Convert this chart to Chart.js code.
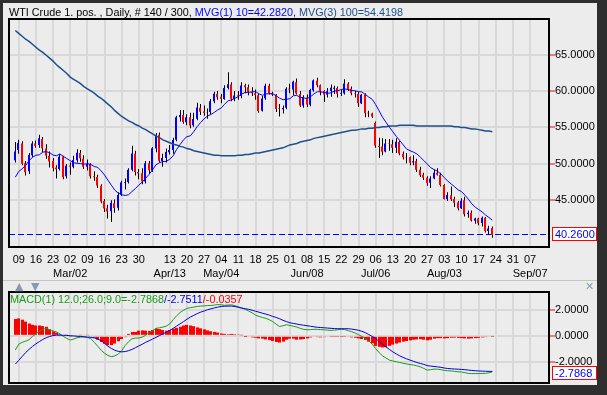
<!DOCTYPE html>
<html>
<head>
<meta charset="utf-8">
<script src="https://cdn.jsdelivr.net/npm/chart.js@4.4.0/dist/chart.umd.min.js"></script>
<style>
  html, body { margin: 0; padding: 0; }
  body { width: 607px; height: 395px; background: #2e2e2e; position: relative; overflow: hidden;
         font-family: "Liberation Sans", Arial, sans-serif; font-size: 11px; }
  #panel { position: absolute; left: 3px; top: 3px; width: 594px; height: 382px; background: #ececec; }
  #sep { position: absolute; left: 3px; top: 280px; width: 594px; height: 1px; background: #c4c4c4; }
  canvas { position: absolute; left: 0; }
  #c1 { top: 0; }
  #c2 { top: 283px; }
  .txt { position: absolute; white-space: nowrap; line-height: 13px; font-size: 10.8px; }
  .btn { position: absolute; color: #8a98b2; font-family: "DejaVu Sans", sans-serif; font-size: 11px; line-height: 11px; }
</style>
</head>
<body>
<div id="panel"></div>
<div id="sep"></div>
<canvas id="c1" width="607" height="283"></canvas>
<canvas id="c2" width="607" height="110"></canvas>
<div class="txt" style="left:9px;top:6px;">WTI Crude 1. pos. , Daily, # 140 / 300, <span style="color:#0000ff">MVG(1) 10=42.2820, </span><span style="color:#1c4f8c">MVG(3) 100=54.4198</span></div>
<div class="txt" style="left:10px;top:293px;"><span style="color:#1a9a1a">MACD(1) 12.0;26.0;9.0=-2.7868</span><span style="color:#0000dd">/-2.7511</span><span style="color:#ff0000">/-0.0357</span></div>
<div class="btn" style="left:15px;top:281px;">▲</div>
<div class="btn" style="left:31px;top:281px;">▼</div>
<div class="btn" style="left:585px;top:281px;font-weight:bold;">✕</div>
<script>
// tick layout (bar index of each weekly grid line)
const tickIdx = [1, 6, 11, 16, 21, 26, 31, 36, 40, 45, 50, 55, 60, 65, 70, 75, 80, 85, 90, 95, 100, 105, 110, 115, 120, 125, 130, 135, 140, 145, 150];
const tickDays = ['09','16','23','02','09','16','23','30','','13','20','27','04','11','18','25','01','08','15','22','29','06','13','20','27','03','10','17','24','31','07'];
const tickMonths = ['','','','Mar/02','','','','','','Apr/13','','','May/04','','','','','Jun/08','','','','Jul/06','','','','Aug/03','','','','','Sep/07'];

const opens = [50.50,51.90,52.80,50.10,49.00,51.20,52.80,52.60,53.40,52.10,51.10,50.40,49.50,49.30,51.00,48.30,49.80,49.60,50.50,51.50,
  50.70,49.60,50.00,48.30,48.20,47.00,44.90,43.90,43.50,44.60,44.00,45.80,47.40,47.50,49.20,51.40,48.90,48.70,47.60,50.10,
  49.10,52.10,54.00,50.40,50.80,51.60,51.90,53.30,56.40,56.70,55.70,56.40,55.30,56.20,57.70,57.20,57.00,57.10,58.60,59.60,
  59.20,58.90,60.40,60.90,58.90,59.40,59.30,60.80,60.50,59.90,59.70,59.40,57.30,59.00,60.70,59.70,59.50,57.60,57.50,57.70,
  60.30,60.20,61.20,59.60,58.00,59.10,58.10,60.10,61.40,60.80,60.00,59.50,60.00,60.30,60.40,59.60,59.70,61.00,60.30,59.70,
  59.60,58.30,59.50,57.00,56.90,55.60,52.50,52.40,51.70,52.80,52.70,52.20,53.00,51.40,50.90,50.90,50.20,50.40,49.20,48.50,
  48.10,47.40,48.00,48.80,48.50,47.10,45.20,45.70,45.20,44.70,43.90,45.00,43.10,43.30,42.20,42.50,41.90,42.60,40.80,41.20];
const highs = [53.00,53.30,53.10,50.40,51.50,53.10,53.20,54.00,53.70,52.70,51.70,50.80,49.80,51.40,51.10,50.00,50.20,51.10,52.00,51.90,
  51.20,50.60,50.10,49.00,48.50,47.20,45.20,44.40,45.00,45.10,46.10,47.70,48.00,49.40,52.48,51.80,49.30,49.40,50.40,50.40,
  52.30,54.24,54.30,51.40,52.10,52.60,53.60,56.60,57.40,57.40,56.80,57.00,57.00,58.40,58.20,58.00,57.60,58.90,59.90,60.00,
  59.60,60.80,62.58,61.20,60.00,60.00,61.20,61.00,60.90,60.50,60.20,59.60,59.30,61.00,61.00,59.90,59.60,58.20,58.00,60.50,
  61.00,61.40,61.70,60.00,59.40,59.50,60.30,61.57,61.80,60.90,60.10,60.40,60.90,60.70,60.60,60.20,61.60,61.20,60.60,60.00,
  59.90,59.60,59.70,57.30,57.00,55.80,53.60,53.50,53.40,53.40,53.30,53.50,53.20,51.70,51.50,51.00,51.20,50.70,49.60,48.80,
  48.30,48.30,49.20,49.40,48.80,47.20,46.10,46.90,45.50,44.90,45.30,45.50,43.60,43.60,42.60,42.60,42.80,42.70,41.50,41.40];
const lows = [50.20,51.40,49.80,48.40,48.60,50.90,52.20,52.20,51.60,50.70,49.50,49.00,48.00,49.10,47.90,48.00,48.50,49.40,50.20,50.30,
  49.30,49.10,48.00,47.70,46.70,44.60,43.40,42.50,42.03,43.30,43.60,45.60,46.50,47.30,49.00,48.40,47.90,47.20,47.30,48.60,
  48.90,51.60,50.20,49.60,50.20,51.30,51.40,53.10,55.80,55.50,55.30,54.90,55.10,56.00,56.70,56.60,56.20,56.80,58.30,58.80,
  58.30,58.80,60.20,58.60,58.60,58.80,59.00,59.70,59.40,59.30,58.80,57.00,57.20,58.80,59.50,59.30,57.10,56.50,56.90,57.50,
  59.70,59.40,59.50,57.80,57.70,57.80,57.90,59.90,60.50,59.40,58.50,59.10,59.20,59.60,59.10,59.30,59.50,60.00,59.40,59.10,
  57.80,58.20,56.40,56.40,56.30,52.20,50.80,51.20,51.60,51.80,51.50,51.50,51.20,50.60,50.10,49.80,49.80,48.90,48.20,47.80,
  47.00,46.70,47.90,48.40,46.90,45.10,44.90,44.90,44.10,43.60,43.80,42.80,42.60,42.10,41.80,41.60,41.40,40.60,40.30,39.86];
const closes = [51.69,52.86,50.02,48.84,51.21,52.78,52.50,53.53,52.14,51.16,50.34,49.45,49.25,50.99,48.17,49.76,49.59,50.52,51.53,50.76,
  49.61,50.00,48.29,48.17,47.05,44.84,43.88,43.46,44.66,43.96,45.72,47.45,47.51,49.21,51.43,48.87,48.68,47.60,50.09,49.14,
  52.14,53.98,50.42,50.79,51.64,51.91,53.29,56.39,56.71,55.74,56.38,55.26,56.16,57.74,57.15,56.99,57.06,58.58,59.63,59.15,
  58.93,60.40,60.93,58.94,59.39,59.25,60.75,60.50,59.88,59.69,59.43,57.26,58.98,60.72,59.72,59.50,57.51,57.51,57.68,60.30,
  60.20,61.26,59.64,58.00,59.13,58.14,60.14,61.43,60.77,59.96,59.52,59.97,60.45,60.45,59.61,59.68,61.01,60.27,59.70,59.63,
  58.33,59.47,56.96,56.93,56.50,52.53,52.33,51.65,52.78,52.74,52.20,53.04,51.41,50.91,50.89,50.15,50.36,49.19,48.45,48.14,
  47.39,47.98,48.79,48.52,47.12,45.17,45.74,45.15,44.66,43.87,44.96,43.08,43.30,42.23,42.50,41.87,42.62,40.80,41.14,40.26];

const mvg10 = [48.18,48.96,49.33,49.77,50.44,50.90,51.19,51.24,51.61,51.67,51.54,51.20,51.12,51.34,51.03,50.73,50.44,50.14,50.08,50.04,
  49.96,50.02,49.92,49.64,49.53,49.04,48.47,47.76,47.07,46.39,46.00,45.75,45.67,45.77,46.21,46.62,47.10,47.51,48.05,48.57,
  49.21,49.87,50.16,50.31,50.34,50.64,51.10,51.98,52.64,53.30,53.73,53.85,54.43,55.12,55.67,56.18,56.56,56.78,57.07,57.41,
  57.67,58.18,58.66,58.78,59.00,59.23,59.60,59.79,59.81,59.87,59.92,59.60,59.41,59.59,59.62,59.64,59.32,59.02,58.80,58.86,
  58.94,59.34,59.40,59.13,59.07,58.94,59.20,59.59,59.90,59.87,59.80,59.67,59.75,60.00,60.04,60.20,60.29,60.17,60.06,60.03,
  59.91,59.86,59.51,59.16,58.85,58.13,57.27,56.40,55.71,55.02,54.41,53.77,53.21,52.61,52.05,51.81,51.61,51.37,50.93,50.47,
  49.99,49.49,49.23,48.99,48.61,48.11,47.65,47.25,46.87,46.44,46.20,45.71,45.16,44.53,44.07,43.74,43.42,42.99,42.64,42.28];
const mvg100 = [68.3,67.9,67.5,67.1,66.8,66.4,66.0,65.6,65.3,64.9,64.5,64.1,63.6,63.2,62.8,62.4,61.9,61.6,61.3,61.0,
  60.6,60.3,60.0,59.7,59.3,59.0,58.6,58.2,57.8,57.3,56.9,56.5,56.2,55.9,55.7,55.4,55.2,54.9,54.7,54.4,
  54.1,53.8,53.6,53.3,53.1,52.9,52.7,52.6,52.4,52.3,52.1,52.0,51.8,51.7,51.6,51.5,51.4,51.3,51.2,51.2,
  51.1,51.1,51.1,51.1,51.1,51.2,51.2,51.3,51.3,51.4,51.5,51.5,51.6,51.7,51.8,51.9,52.0,52.1,52.2,52.4,
  52.6,52.7,52.8,53.0,53.1,53.2,53.3,53.5,53.6,53.7,53.8,53.9,54.0,54.1,54.2,54.3,54.4,54.5,54.6,54.6,
  54.7,54.8,54.8,54.9,54.9,55.0,55.0,55.1,55.1,55.2,55.2,55.2,55.3,55.3,55.3,55.3,55.3,55.2,55.2,55.2,
  55.2,55.2,55.2,55.2,55.2,55.2,55.2,55.2,55.1,55.1,55.0,55.0,54.9,54.8,54.8,54.7,54.6,54.5,54.5,54.42];

const macdLine = [-1.10,-0.65,-0.50,-0.42,-0.30,-0.05,0.15,0.35,0.50,0.58,0.48,0.38,0.30,0.15,-0.05,-0.20,-0.33,-0.25,-0.15,-0.10,
  -0.08,-0.12,-0.22,-0.50,-0.80,-1.12,-1.35,-1.52,-1.62,-1.55,-1.42,-1.15,-0.75,-0.45,-0.22,-0.18,-0.17,-0.10,0.05,0.25,
  0.40,0.58,0.62,0.68,0.75,0.92,1.25,1.55,1.80,1.98,2.12,2.18,2.22,2.27,2.30,2.32,2.34,2.35,2.38,2.42,
  2.40,2.36,2.38,2.40,2.33,2.25,2.16,2.05,1.92,1.78,1.60,1.50,1.42,1.35,1.25,1.10,0.90,0.72,0.78,0.86,
  0.80,0.74,0.68,0.58,0.50,0.47,0.48,0.50,0.50,0.48,0.46,0.44,0.42,0.44,0.47,0.50,0.48,0.40,0.32,0.22,
  0.08,-0.05,-0.20,-0.40,-0.65,-0.99,-1.30,-1.55,-1.72,-1.88,-1.95,-2.00,-2.06,-2.12,-2.18,-2.22,-2.26,-2.32,-2.40,-2.52,
  -2.65,-2.62,-2.58,-2.58,-2.62,-2.68,-2.70,-2.72,-2.75,-2.78,-2.80,-2.85,-2.91,-2.92,-2.92,-2.92,-2.91,-2.90,-2.86,-2.79];
const signalLine = [-2.19,-1.90,-1.60,-1.30,-1.05,-0.82,-0.62,-0.45,-0.28,-0.15,-0.05,0.02,0.05,0.05,0.04,0.03,0.01,-0.01,-0.03,-0.05,
  -0.08,-0.10,-0.12,-0.16,-0.25,-0.38,-0.58,-0.80,-0.98,-1.12,-1.20,-1.24,-1.22,-1.15,-1.05,-0.92,-0.78,-0.65,-0.50,-0.38,
  -0.25,-0.12,0.02,0.15,0.28,0.42,0.58,0.75,0.92,1.10,1.28,1.45,1.58,1.72,1.83,1.92,2.02,2.09,2.16,2.22,
  2.27,2.29,2.30,2.30,2.26,2.20,2.14,2.10,2.05,1.98,1.90,1.83,1.75,1.68,1.60,1.50,1.42,1.32,1.20,1.10,
  1.01,0.96,0.91,0.86,0.82,0.78,0.74,0.70,0.66,0.64,0.62,0.60,0.58,0.56,0.55,0.55,0.55,0.55,0.52,0.48,
  0.43,0.35,0.24,0.10,-0.05,-0.20,-0.45,-0.65,-0.86,-1.05,-1.24,-1.40,-1.55,-1.67,-1.78,-1.88,-1.97,-2.06,-2.14,-2.21,
  -2.30,-2.34,-2.37,-2.40,-2.44,-2.49,-2.53,-2.55,-2.57,-2.58,-2.60,-2.62,-2.65,-2.68,-2.70,-2.72,-2.73,-2.74,-2.75,-2.75];
const macdHist = [1.30,1.35,1.25,1.10,0.95,0.85,0.80,0.80,0.75,0.70,0.50,0.35,0.25,0.12,0.08,0.05,-0.05,-0.08,-0.06,0.05,
  0.08,0.05,-0.08,-0.15,-0.30,-0.48,-0.62,-0.72,-0.72,-0.60,-0.42,-0.25,-0.10,0.15,0.30,0.30,0.40,0.42,0.40,0.38,
  0.45,0.55,0.52,0.45,0.40,0.45,0.55,0.62,0.70,0.80,0.85,0.80,0.75,0.65,0.58,0.50,0.42,0.35,0.30,0.25,
  0.18,0.15,0.12,0.15,0.12,0.10,0.05,-0.02,-0.08,-0.12,-0.15,-0.20,-0.22,-0.28,-0.32,-0.40,-0.48,-0.52,-0.45,-0.30,
  -0.22,-0.22,-0.30,-0.28,-0.25,-0.20,-0.12,-0.08,-0.10,-0.12,-0.10,-0.08,-0.05,-0.05,-0.05,-0.04,-0.05,-0.08,-0.12,-0.15,
  -0.20,-0.25,-0.32,-0.45,-0.58,-0.78,-0.85,-0.90,-0.88,-0.78,-0.68,-0.60,-0.52,-0.45,-0.40,-0.35,-0.30,-0.28,-0.26,-0.30,
  -0.35,-0.30,-0.22,-0.18,-0.18,-0.20,-0.18,-0.15,-0.14,-0.16,-0.18,-0.20,-0.22,-0.20,-0.18,-0.16,-0.12,-0.10,-0.08,-0.04];

const lastClose = 40.26;
const lastMacd = -2.7868;

Chart.defaults.font.family = '"Liberation Sans", Arial, sans-serif';
Chart.defaults.font.size = 11;
Chart.defaults.color = '#000';

const idx = closes.map((c, i) => i);
const bodyColors = closes.map((c, i) => c >= opens[i] ? '#0000ff' : '#ff0000');
const xMin = -1.84, xMax = 155.5;
const gridColor = '#d9d9d9';

// snap bar centres to whole pixels so thin bars stay crisp
const snapPlugin = {
  id: 'snap',
  beforeDatasetsDraw(chart) {
    chart.data.datasets.forEach((ds, di) => {
      if (ds.type !== 'bar') return;
      chart.getDatasetMeta(di).data.forEach(el => {
        const w = Math.round(el.width);
        el.x = Math.floor(el.x) + (w % 2 ? 0.5 : 0);
      });
    });
  }
};

// frame around the plot, dashed last-price line, value box on the right axis
const framePlugin = {
  id: 'frame',
  beforeDatasetsDraw(chart, args, opts) {
    if (opts.dashValue == null) return;
    const a = chart.chartArea, ctx = chart.ctx;
    const y = Math.floor(chart.scales.y.getPixelForValue(opts.dashValue)) + 0.5;
    ctx.save();
    ctx.strokeStyle = '#0000ff';
    ctx.lineWidth = 1;
    ctx.setLineDash([6, 3]);
    ctx.beginPath();
    ctx.moveTo(a.left, y);
    ctx.lineTo(a.right, y);
    ctx.stroke();
    ctx.restore();
  },
  afterDraw(chart, args, opts) {
    const a = chart.chartArea, ctx = chart.ctx;
    ctx.save();
    ctx.strokeStyle = '#000';
    ctx.lineWidth = 2;
    ctx.strokeRect(a.left, a.top, a.right - a.left, a.bottom - a.top);
    if (opts.boxValue != null) {
      const y = Math.round(chart.scales.y.getPixelForValue(opts.boxValue)) + (opts.boxShift || 0);
      ctx.fillStyle = '#fff';
      ctx.fillRect(552, y - 6, 44, 13);
      ctx.strokeStyle = '#ff0000';
      ctx.lineWidth = 1;
      ctx.strokeRect(552.5, y - 6.5, 44, 13);
      ctx.fillStyle = '#0000ff';
      ctx.font = '11px "Liberation Sans", Arial, sans-serif';
      ctx.textBaseline = 'middle';
      ctx.fillText(opts.boxText, 555, y + 0.5);
    }
    ctx.restore();
  }
};

const weekTicks = s => { s.ticks = tickIdx.map(v => ({ value: v })); };

new Chart(document.getElementById('c1'), {
  type: 'line',
  data: {
    datasets: [
      { type: 'line', data: idx.map(i => ({ x: i, y: mvg10[i] })), borderColor: '#0000ff', borderWidth: 1, pointRadius: 0, order: 0 },
      { type: 'line', data: idx.map(i => ({ x: i, y: mvg100[i] })), borderColor: '#1c4f8c', borderWidth: 1.5, pointRadius: 0, order: 1 },
      { type: 'bar', data: idx.map(i => ({ x: i, y: [opens[i], closes[i]] })), backgroundColor: bodyColors, barThickness: 2, inflateAmount: 0, grouped: false, order: 2 },
      { type: 'bar', data: idx.map(i => ({ x: i, y: [lows[i], highs[i]] })), backgroundColor: '#000', barThickness: 1, inflateAmount: 0, grouped: false, order: 3 }
    ]
  },
  options: {
    responsive: false,
    animation: false,
    events: [],
    layout: { padding: { left: 9, top: 19, right: 0, bottom: 0 } },
    plugins: {
      legend: { display: false },
      tooltip: { enabled: false },
      frame: { dashValue: lastClose, boxValue: lastClose, boxText: lastClose.toFixed(4), boxShift: -1 }
    },
    scales: {
      x: {
        type: 'linear', min: xMin, max: xMax, offset: false,
        afterBuildTicks: weekTicks,
        afterFit: s => { s.height = 36; },
        grid: { color: gridColor, lineWidth: 2, drawTicks: false, offset: false },
        border: { display: false },
        ticks: { autoSkip: false, maxRotation: 0, minRotation: 0, padding: 5, font: { lineHeight: 1.36 },
                 callback: (v, i) => [tickDays[i], tickMonths[i]] }
      },
      y: {
        position: 'right', min: 38.6, max: 69.87,
        afterBuildTicks: s => { s.ticks = [45, 50, 55, 60, 65].map(v => ({ value: v })); },
        afterFit: s => { s.width = 58; },
        grid: { color: gridColor, lineWidth: 2, tickColor: '#ff0000', tickLength: 6, tickWidth: 1 },
        border: { display: false },
        ticks: { padding: 0, callback: v => v.toFixed(4) }
      }
    }
  },
  plugins: [snapPlugin, framePlugin]
});

new Chart(document.getElementById('c2'), {
  type: 'line',
  data: {
    datasets: [
      { type: 'line', data: idx.map(i => ({ x: i, y: signalLine[i] })), borderColor: '#0000dd', borderWidth: 1, pointRadius: 0, order: 0 },
      { type: 'line', data: idx.map(i => ({ x: i, y: macdLine[i] })), borderColor: '#1a9a1a', borderWidth: 1, pointRadius: 0, order: 1 },
      { type: 'bar', data: idx.map(i => ({ x: i, y: macdHist[i] })), backgroundColor: '#ff0000', barThickness: 3, inflateAmount: 0, grouped: false, order: 2 }
    ]
  },
  options: {
    responsive: false,
    animation: false,
    events: [],
    layout: { padding: { left: 9, top: 9, right: 0, bottom: 0 } },
    plugins: {
      legend: { display: false },
      tooltip: { enabled: false },
      frame: { boxValue: lastMacd, boxText: lastMacd.toFixed(4), boxShift: 1 }
    },
    scales: {
      x: {
        type: 'linear', min: xMin, max: xMax, offset: false,
        afterBuildTicks: weekTicks,
        afterFit: s => { s.height = 10; },
        grid: { color: gridColor, lineWidth: 2, drawTicks: false, offset: false },
        border: { display: false },
        ticks: { display: false }
      },
      y: {
        position: 'right', min: -3.65, max: 3.39,
        afterBuildTicks: s => { s.ticks = [-2, 0, 2].map(v => ({ value: v })); },
        afterFit: s => { s.width = 58; },
        grid: { color: gridColor, lineWidth: 2, tickColor: '#ff0000', tickLength: 6, tickWidth: 1 },
        border: { display: false },
        ticks: { padding: 0, callback: v => v.toFixed(4) }
      }
    }
  },
  plugins: [snapPlugin, framePlugin]
});
</script>
</body>
</html>
